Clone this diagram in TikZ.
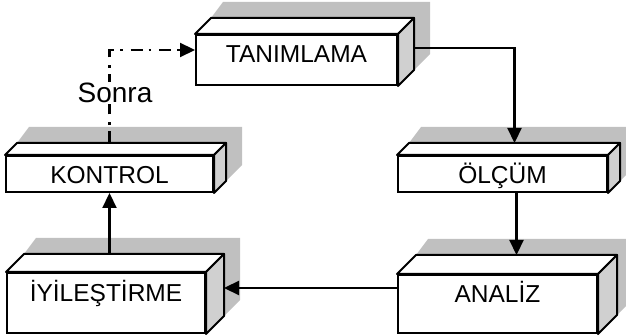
\documentclass[tikz,border=0pt]{standalone}
\usepackage{fontspec}
\setmainfont{Liberation Sans}
\usetikzlibrary{positioning}
\usetikzlibrary{arrows.meta}
\usetikzlibrary{backgrounds}
\definecolor{shadowgray}{RGB}{192,192,192}
\definecolor{sidegray}{RGB}{208,208,208}
\tikzset{
  frontbox/.style={draw, fill=white, line width=2pt, inner sep=0pt,
    font=\fontsize{24.5}{28}\selectfont, text height=17pt},
  conn/.style={line width=2.2pt, -{Triangle[length=15pt,width=14pt]}},
  dashdot/.style={conn, dash pattern=on 12pt off 6pt on 2.5pt off 8pt},
}

\begin{document}
\begin{tikzpicture}[x=1pt, y=-1pt]
  \useasboundingbox (0,0) rectangle (626,336);
  % front faces of the boxes
  \node[frontbox, minimum width=201pt, minimum height=50pt, text depth=11pt] (tanim) at (296.5,60) {TANIMLAMA};
  \node[frontbox, minimum width=207pt, minimum height=36pt, text height=20pt, text depth=0pt] (kontrol) at (109.5,174) {KONTROL};
  \node[frontbox, minimum width=209pt, minimum height=36pt, text height=20pt, text depth=0pt] (olcum) at (502.5,174) {ÖLÇÜM};
  \node[frontbox, minimum width=198pt, minimum height=60pt, text depth=19pt] (iyi) at (106,303) {İYİLEŞTİRME};
  \node[frontbox, minimum width=199pt, minimum height=58pt, text depth=19pt] (analiz) at (497.5,304) {ANALİZ};

  % top face, side face and shadow of each box
  \foreach \n/\d in {tanim/16, kontrol/12, olcum/12, iyi/18, analiz/19} {
    \begin{scope}[on background layer]
      \fill[shadowgray] ([shift={(\d pt,\d pt)}]\n.north west) -- ([shift={(\d pt+12pt,\d pt+16pt)}]\n.north west)
        -- ([shift={(\d pt+16pt,\d pt+16pt)}]\n.north east) -- ([shift={(\d pt+16pt,\d pt+16pt)}]\n.south east)
        -- (\n.south east) -- cycle;
    \end{scope}
    \draw[line width=2pt, fill=white, line join=round] (\n.north west) -- ([shift={(\d pt,\d pt)}]\n.north west)
      -- ([shift={(\d pt,\d pt)}]\n.north east) -- (\n.north east) -- cycle;
    \draw[line width=2pt, fill=sidegray, line join=round] (\n.north east) -- ([shift={(\d pt,\d pt)}]\n.north east)
      -- ([shift={(\d pt,\d pt)}]\n.south east) -- (\n.south east) -- cycle;
  }

  % connector ends
  \coordinate (tanim-side) at ([shift={(16pt,12pt)}]tanim.east);
  \coordinate (tanim-left) at ([yshift=10pt]tanim.west);
  \coordinate (kontrol-top) at ([yshift=12pt]kontrol.north);
  \coordinate (olcum-top) at ([shift={(12pt,12pt)}]olcum.north);
  \coordinate (analiz-top) at ([shift={(19pt,19pt)}]analiz.north);
  \coordinate (analiz-left) at ([yshift=16pt]analiz.west);
  \coordinate (iyi-top) at ([yshift=18pt]iyi.north);
  \coordinate (iyi-side) at ([xshift=18pt]iyi.east);

  \draw[conn] (tanim-side) -| (olcum-top);
  \draw[conn] (olcum.south -| analiz-top) -- (analiz-top);
  \draw[conn] (analiz-left) -- (analiz-left -| iyi-side);
  \draw[conn] (kontrol.south |- iyi-top) -- (kontrol.south);
  \draw[dashdot] (kontrol-top) |- (tanim-left);
  \node[fill=white, inner sep=1pt, anchor=base, font=\fontsize{28}{32}\selectfont] (sonra) at (115,103) {Sonra};
\end{tikzpicture}
\end{document}
